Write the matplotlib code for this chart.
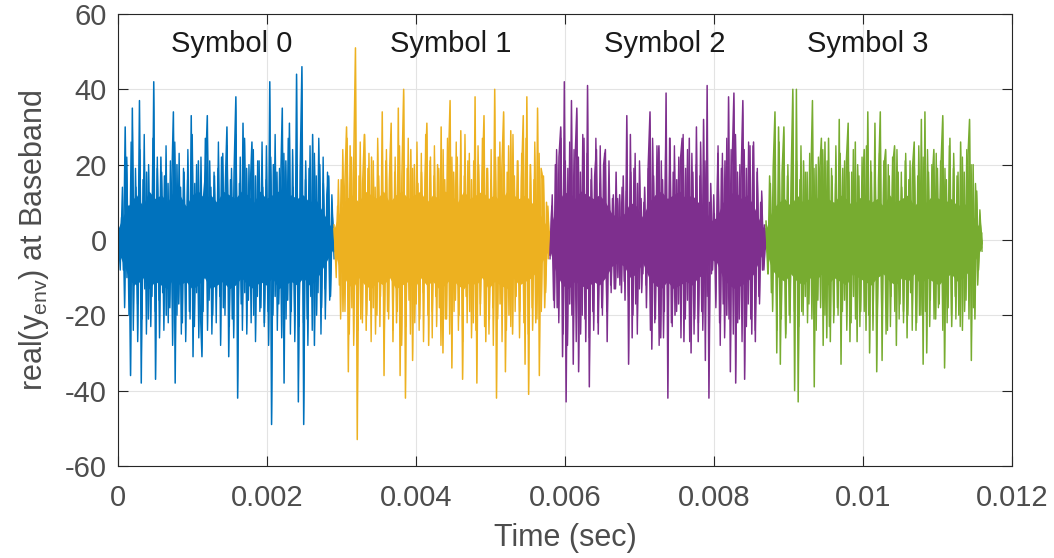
import numpy as np
import matplotlib.pyplot as plt

# %%
"""
Data read from the figure: large spike samples of real(y_env) per symbol,
medium samples that make up the busy band, and the edges of the solid core
"""
symbol_dur = 0.0029  # seconds per symbol

s0 = [2, -4, 6, -8, 30, -10, 9, -36, 35, -12,
      14, -17, 37, -38, 16, -13, 18, -21, 12, -15,
      42, -37, 19, -16, 22, -14, 17, -20, 15, -18,
      13, 34, -38, 20, -17, 14, -22, 18, -12, 16,
      -19, 33, -31, 15, -14, 21, -17, -31, 12, 18,
      33, -16, 14, -20, 17, -13, 19, -15, 22, -18,
      13, 30, -31, 16, -21, 18, 38, -42, 15, -17,
      31, -14, 19, -16, 13, 26, -20, 17, -15, 21,
      -18, 14, -22, 16, -19, 42, -49, 20, -15, 18,
      -17, 13, 35, -38, 21, -16, 31, -19, 14, -20,
      44, -43, 18, 46, -49, 16, -21, 19, -15, 28,
      -28, 17, -14, 20, -18, 15, -13, 12, 17, -15,
      6, -3]

s1 = [3, -6, 9, -12, 16, -19, 14, 30, -35, 25,
      -18, 20, 51, -53, 17, -21, 15, 28, -24, 19,
      -16, 22, -18, 14, -20, 17, -15, 34, -36, 21,
      -19, 16, 31, -27, 18, -22, 35, -36, 17, 40,
      -42, 19, -16, 24, -32, 20, -17, 15, -21, 18,
      -14, 16, 31, -28, 22, -19, 17, -15, 20, -18,
      30, -30, 16, -21, 19, 37, -34, 18, -16, 22,
      -20, 29, -37, 17, -15, 21, -19, 16, -22, 38,
      -38, 20, -17, 15, 33, -27, 19, -21, 16, -18,
      40, -42, 22, -17, 19, 34, -35, 18, -20, 29,
      -25, 17, -15, 21, -19, 16, 33, -33, 38, -41,
      20, -18, 16, -22, 35, -36, 19, 16, -18, 10,
      -5, 2]

s2 = [-4, 9, -16, 20, -18, 22, 30, -31, 42, -43,
      19, -17, 37, -33, 21, 35, -35, 18, -20, 27,
      -27, 41, -39, 16, -19, 17, 24, -25, 15, -18,
      20, 24, -27, 14, -12, 11, -13, 18, -10, 12,
      -14, 17, -16, 33, -33, 28, -26, 19, -17, 15,
      -13, 11, -9, 14, -18, 20, 34, -29, 17, -21,
      18, 25, -26, 16, -19, 39, -42, 27, -22, 18,
      -20, 16, -17, 21, 27, -27, 19, -16, 27, -30,
      18, -21, 30, -27, 17, -19, 32, -32, 41, -42,
      15, -8, 7, -10, 23, -22, 19, -17, 21, -20,
      38, -35, 20, 39, -38, 18, -21, 16, 37, -37,
      19, -17, 25, -25, 26, -27, 18, -15, 10, -8,
      4, -2]

s3 = [5, -9, 17, -14, 19, 34, -30, 30, -33, 18,
      30, -26, 17, -20, 15, 40, -40, 40, -43, 16,
      -19, 21, -15, 18, -17, 14, 37, -39, 20, -16,
      18, 27, -28, 26, -26, 27, -27, 17, -20, 15,
      -18, 32, -33, 19, -16, 21, 31, -27, 18, -15,
      26, -27, 17, -19, 14, 24, -24, 34, -30, 18,
      -20, 31, -35, 16, 34, -32, 19, 24, -24, 17,
      -15, 20, 25, -28, 18, -17, 14, -19, 21, -26,
      16, -14, 19, 26, -24, 17, -20, 32, -33, 34,
      -30, 18, -16, 15, 24, -21, 19, -17, 20, 33,
      -34, 16, -18, 27, -23, 19, -15, 17, -20, 26,
      -24, 18, -16, 21, 32, -32, 20, -21, 13, -8,
      4, -1]

# medium samples (the busy band around +-20)
m0 = [3, -8, 14, -18, 22, -20, 26, -24, 19, -27,
      24, -21, 28, -25, 20, -23, 27, -19, 22, -26,
      18, -24, 25, -22, 21, -28, 26, -20, 23, -25,
      19, -27, 24, -21, 28, -23, 20, -26, 22, -19,
      27, -24, 21, -25, 18, -22, 26, -28, 23, -20,
      25, -23, 19, -26, 28, -21, 22, -24, 27, -25,
      20, -22, 24, -27, 21, -19, 26, -23, 25, -28,
      22, -20, 28, -24, 19, -26, 23, -21, 27, -25,
      24, -27, 20, -23, 26, -22, 21, -28, 25, -24,
      23, -20, 27, -25, 22, -21, 18, -16, 12, -5]

m1 = [4, -10, 16, -21, 24, -19, 27, -25, 22, -28,
      19, -24, 26, -22, 28, -20, 23, -27, 21, -25,
      27, -23, 20, -26, 24, -21, 28, -24, 22, -19,
      25, -28, 21, -23, 27, -25, 19, -22, 26, -24,
      23, -27, 28, -20, 21, -26, 25, -23, 19, -28,
      24, -21, 27, -25, 22, -19, 26, -24, 20, -27,
      28, -22, 23, -26, 21, -24, 25, -20, 27, -23,
      19, -25, 24, -28, 22, -21, 26, -27, 20, -24,
      25, -23, 28, -19, 21, -26, 23, -22, 27, -25,
      20, -24, 26, -21, 23, -19, 17, -14, 9, -4]

m2 = [-5, 12, -18, 24, -22, 27, -25, 21, -28, 26,
      -20, 24, -27, 22, -25, 28, -21, 23, -26, 19,
      -24, 27, -22, 25, -20, 23, -19, 21, -14, 12,
      -13, 11, -12, 14, -11, 13, -15, 18, -20, 23,
      -25, 21, -14, 10, -12, 19, -24, 27, -22, 25,
      -28, 21, -26, 24, -20, 27, -23, 25, -19, 22,
      -26, 28, -21, 24, -27, 23, -25, 20, -22, 26,
      -24, 21, -15, 10, -9, 12, -18, 25, -28, 23,
      -26, 27, -21, 24, -25, 28, -22, 20, -27, 24,
      -23, 26, -21, 25, -24, 19, -17, 13, -8, 3]

m3 = [4, -9, 15, -19, 22, -24, 26, -21, 23, -25,
      20, -22, 24, -19, 21, -23, 25, -20, 18, -22,
      23, -21, 19, -24, 22, -18, 24, -20, 21, -23,
      19, -22, 25, -20, 23, -19, 21, -24, 18, -22,
      24, -21, 20, -23, 22, -19, 25, -20, 21, -24,
      19, -22, 23, -18, 21, -25, 20, -23, 22, -19,
      24, -21, 18, -22, 23, -20, 21, -24, 19, -22,
      25, -20, 22, -19, 24, -23, 20, -21, 23, -18,
      21, -24, 19, -22, 25, -20, 23, -21, 18, -23,
      22, -19, 24, -21, 20, -18, 15, -12, 8, -3]

# solid core band edges (upper / lower), evenly spread over each symbol
core0_hi = [3, 7, 10, 12, 9, 13, 11, 12, 10, 13, 12, 9, 12, 13, 11, 12, 10, 13,
            12, 11, 13, 12, 10, 13, 11, 12, 13, 10, 12, 11, 12, 10, 11, 8, 5, 2]
core0_lo = [-3, -7, -11, -12, -10, -13, -11, -12, -13, -10, -12, -11, -13, -12, -10, -13, -12, -11,
            -13, -12, -10, -12, -13, -11, -12, -10, -13, -12, -11, -12, -10, -12, -11, -8, -5, -2]
core1_hi = [3, 8, 11, 12, 10, 13, 12, 11, 13, 10, 12, 13, 11, 12, 13, 10, 12, 11,
            13, 12, 10, 13, 11, 12, 13, 11, 12, 10, 13, 12, 11, 12, 10, 8, 5, 2]
core1_lo = [-3, -8, -11, -13, -10, -12, -13, -11, -12, -10, -13, -12, -11, -13, -10, -12, -11, -13,
            -12, -10, -12, -13, -11, -12, -10, -13, -11, -12, -13, -10, -12, -11, -10, -8, -5, -2]
core2_hi = [3, 9, 12, 13, 11, 13, 12, 11, 12, 10, 7, 6, 7, 10, 9, 6, 10, 12,
            13, 11, 12, 13, 11, 12, 10, 9, 5, 6, 10, 12, 13, 11, 12, 9, 5, 2]
core2_lo = [-3, -9, -12, -13, -11, -12, -13, -11, -12, -10, -7, -6, -7, -10, -9, -6, -10, -12,
            -13, -11, -13, -12, -11, -12, -10, -9, -5, -6, -10, -12, -13, -12, -11, -9, -5, -2]
core3_hi = [3, 8, 10, 11, 9, 12, 10, 11, 12, 9, 11, 10, 12, 11, 9, 11, 12, 10,
            11, 9, 12, 10, 11, 12, 9, 11, 10, 12, 11, 10, 11, 9, 10, 8, 5, 2]
core3_lo = [-3, -8, -10, -11, -9, -11, -12, -10, -11, -9, -12, -10, -11, -12, -9, -10, -11, -12,
            -10, -9, -11, -12, -10, -11, -9, -12, -10, -11, -12, -10, -9, -11, -10, -8, -5, -2]

spikes = [s0, s1, s2, s3]
mediums = [m0, m1, m2, m3]
cores_hi = [core0_hi, core1_hi, core2_hi, core3_hi]
cores_lo = [core0_lo, core1_lo, core2_lo, core3_lo]
labels = ['Symbol 0', 'Symbol 1', 'Symbol 2', 'Symbol 3']
label_x = [0.00153, 0.00446, 0.00734, 0.01007]
colors = ['#0072BD', '#EDB120', '#7E2F8E', '#77AC30']

# %%
"""
Plot
"""
plt.rcParams['font.family'] = ['Liberation Sans', 'DejaVu Sans']
plt.rcParams['mathtext.default'] = 'regular'
plt.rcParams['axes.unicode_minus'] = False

fig = plt.figure(figsize=(10.54, 5.58), dpi=100)
ax = fig.add_axes([0.112, 0.165, 0.848, 0.810])

def sym_time(k, n):
    return k * symbol_dur + np.linspace(0, symbol_dur, n)

for k, c in enumerate(colors):
    tc = sym_time(k, len(cores_hi[k]))
    ax.fill_between(tc, cores_lo[k], cores_hi[k], color=c, lw=0)

    m = np.array(mediums[k], dtype=float)
    tm = sym_time(k, len(m))
    ax.fill_between(tm, 0, m, color=c, lw=0)
    ax.plot(tm, m, color=c, lw=1.0)

    s = np.array(spikes[k], dtype=float)
    ts = sym_time(k, len(s))
    ax.fill_between(ts, 0, s, color=c, lw=0)
    ax.plot(ts, s, color=c, lw=1.1)

    ax.text(label_x[k], 52, labels[k], ha='center', va='center',
            fontsize=21, color='#1a1a1a')

ax.set_xlim(0, 0.012)
ax.set_ylim(-60, 60)
ax.set_xticks([0, 0.002, 0.004, 0.006, 0.008, 0.010, 0.012])
ax.set_xticklabels(['0', '0.002', '0.004', '0.006', '0.008', '0.01', '0.012'])
ax.set_yticks(np.arange(-60, 61, 20))

ax.grid(True, color='#e3e3e3', lw=0.8)
ax.set_axisbelow(True)
for sp in ax.spines.values():
    sp.set_color('#262626')
    sp.set_linewidth(0.8)
ax.tick_params(direction='in', length=7, width=0.8, colors='#262626',
               labelsize=21, top=True, right=True, labelcolor='#4d4d4d')
ax.tick_params(axis='x', pad=13)
ax.tick_params(axis='y', pad=8)

ax.set_xlabel('Time (sec)', fontsize=22, color='#4d4d4d', labelpad=8)
ax.set_ylabel(r'real(y$_{env}$) at Baseband', fontsize=22, color='#4d4d4d', labelpad=10)

fig.savefig('out.png', dpi=100)
